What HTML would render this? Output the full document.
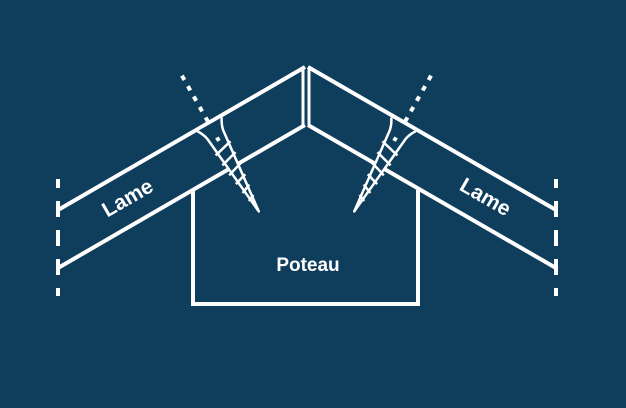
<!DOCTYPE html>
<html><head><meta charset="utf-8"><style>
html,body{margin:0;padding:0;background:#0f3d5c;}
svg{display:block;}
text{font-family:"Liberation Sans",sans-serif;font-weight:bold;fill:#fff;}
</style></head><body>
<svg width="626" height="408" viewBox="0 0 626 408">
<rect width="626" height="408" fill="#0f3d5c"/>
<g stroke="#fff" stroke-width="4" fill="none" stroke-linecap="butt">
<line x1="305" y1="67" x2="58" y2="210"/>
<line x1="305" y1="125" x2="58" y2="268"/>
<line x1="308" y1="67" x2="556" y2="210"/>
<line x1="308" y1="125" x2="556" y2="268"/>
<line x1="303" y1="67" x2="303" y2="125" stroke-width="3"/>
<line x1="309" y1="67" x2="309" y2="125" stroke-width="3"/>
<line x1="58" y1="179" x2="58" y2="296" stroke-dasharray="16 13" stroke-dashoffset="7"/>
<line x1="556" y1="179" x2="556" y2="296" stroke-dasharray="16 13" stroke-dashoffset="7"/>
<polyline points="193,190 193,304 418,304 418,190"/>
</g>
<g id="screw">
<g transform="translate(211,127) rotate(60.5)" stroke="#fff" fill="none">
<line x1="-6" y1="0" x2="-62" y2="0" stroke-width="4" stroke-dasharray="5 7"/>
<path d="M-3,-14 Q3,-10 9,-9 L97,0 L9,9 Q3,10 -3,14" stroke-width="2.5" fill="#0f3d5c" stroke-linejoin="round"/>
<g stroke-width="2.5">
<line x1="22" y1="-10" x2="27" y2="10"/>
<line x1="34" y1="-9" x2="39" y2="9"/>
<line x1="46" y1="-8" x2="51" y2="8"/>
<line x1="58" y1="-6.5" x2="62" y2="6.5"/>
<line x1="69" y1="-5" x2="73" y2="5"/>
<line x1="80" y1="-3.5" x2="83" y2="3.5"/>
</g>
<rect x="12" y="-2" width="4" height="4" fill="#fff" stroke="none"/>
</g>
</g>
<use href="#screw" transform="translate(613,0) scale(-1,1)"/>
<text x="0" y="0" font-size="21" text-anchor="middle" transform="translate(131,204) rotate(-30)">Lame</text>
<text x="0" y="0" font-size="21" text-anchor="middle" transform="translate(482,203) rotate(30)">Lame</text>
<text x="308" y="271" font-size="19" text-anchor="middle">Poteau</text>
</svg>
</body></html>
